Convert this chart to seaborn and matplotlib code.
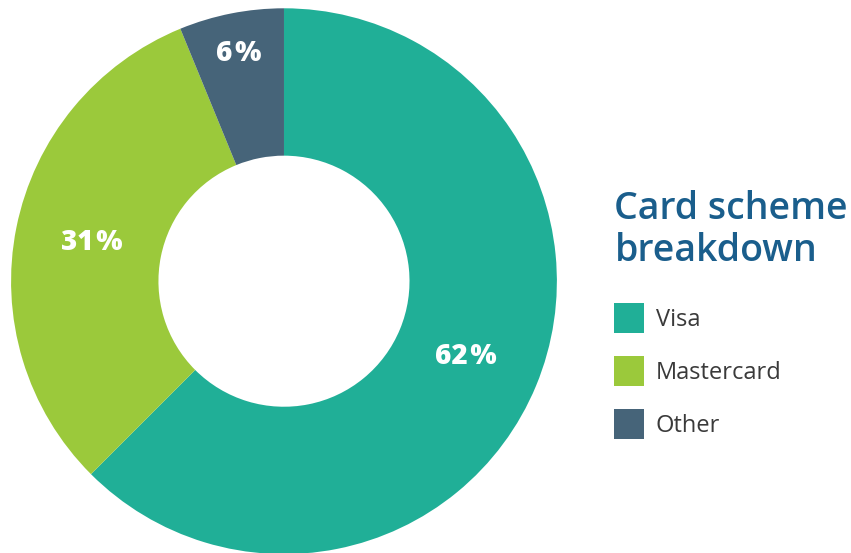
import numpy as np
import matplotlib.pyplot as plt
import seaborn as sns

# card scheme shares
schemes = ['Visa', 'Mastercard', 'Other']
shares = [62.5, 31.3, 6.2]
pct_labels = ['62%', '31%', '6%']
colors = ['#20AF97', '#9BC93B', '#466479']

sns.set_theme(style='white')
plt.rcParams['font.family'] = ['Open Sans', 'DejaVu Sans']

fig = plt.figure(figsize=(8.51, 5.53), dpi=100)
ax = fig.add_axes([0.0129, -0.002, 0.6416, 0.987])

wedges, _ = ax.pie(shares, colors=colors, startangle=90, counterclock=False,
                   radius=1, wedgeprops=dict(width=0.54, edgecolor='none'))
ax.set_xlim(-1, 1)
ax.set_ylim(-1, 1)
ax.set_aspect('equal')
ax.axis('off')

# percentage labels inside each ring segment
label_r = [0.72, 0.72, 0.85]
for w, txt, r in zip(wedges, pct_labels, label_r):
    ang = np.deg2rad((w.theta1 + w.theta2) / 2)
    ax.text(r * np.cos(ang), r * np.sin(ang), txt.replace('%', '\u200a%'),
            ha='center', va='center', color='white', fontsize=20, fontweight='heavy')

fig.text(0.722, 0.584, 'Card scheme\nbreakdown', color='#1A5E8C', fontsize=27,
         fontweight='semibold', ha='left', va='center', linespacing=1.12)

leg = fig.legend(wedges, schemes, loc='upper left', bbox_to_anchor=(0.7215, 0.452),
                 bbox_transform=fig.transFigure, frameon=False,
                 prop=dict(family='Open Sans', size=17),
                 handlelength=1.27, handleheight=1.58, handletextpad=0.5,
                 labelspacing=0.97, borderpad=0, borderaxespad=0)
for t in leg.get_texts():
    t.set_color('#3a3a3a')

fig.savefig('out.png', dpi=100)
